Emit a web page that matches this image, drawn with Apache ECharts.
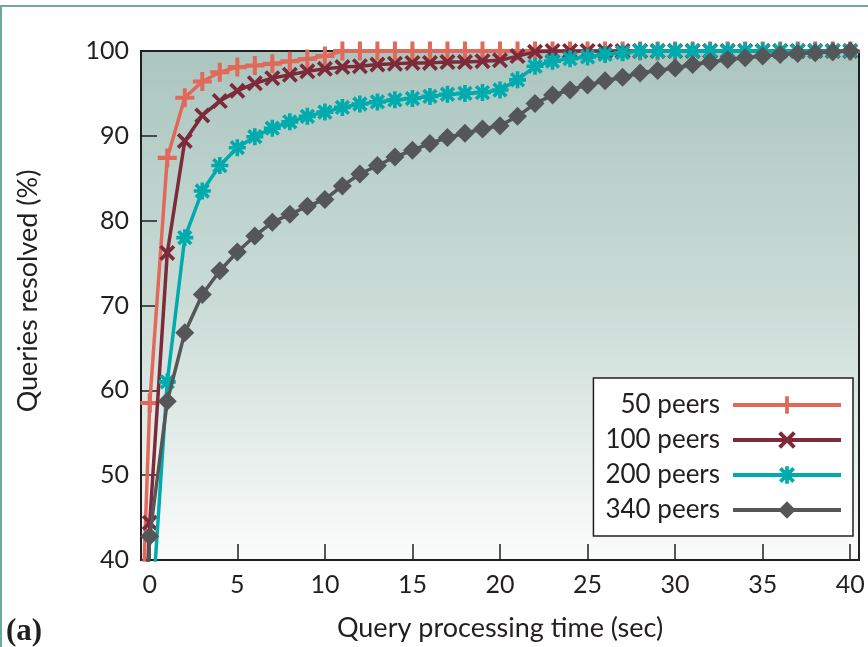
<!DOCTYPE html>
<html>
<head>
<meta charset="utf-8">
<script src="https://cdn.jsdelivr.net/npm/echarts@6/dist/echarts.min.js"></script>
<style>
    html, body { margin: 0; padding: 0; background: #ffffff; }
    #frame {
        position: absolute; left: 0; top: 5px; width: 900px; height: 700px;
        border-left: 2px solid #6eaa9b; border-top: 2px solid #6eaa9b;
    }
    #chart { position: absolute; left: 0; top: 0; width: 868px; height: 647px; }
</style>
</head>
<body>
<div id="frame"></div>
<div id="chart"></div>
<script>
// time in seconds, one sample per second
const times = [0, 1, 2, 3, 4, 5, 6, 7, 8, 9, 10, 11, 12, 13, 14, 15, 16, 17, 18, 19, 20,
    21, 22, 23, 24, 25, 26, 27, 28, 29, 30, 31, 32, 33, 34, 35, 36, 37, 38, 39, 40];

// where every curve comes up from (below the visible range)
const startTime = -1;
const startValue = 0;

const peers50 = [58.5, 87.4, 94.5, 96.4, 97.5, 98.1, 98.3, 98.5, 98.8, 99.05, 99.4,
    100, 100, 100, 100, 100, 100, 100, 100, 100, 100,
    100, 100, 100, 100, 100, 100, 100, 100, 100, 100,
    100, 100, 100, 100, 100, 100, 100, 100, 100, 100];
const peers100 = [44.4, 76.2, 89.4, 92.4, 94.1, 95.3, 96.2, 96.8, 97.2, 97.6, 97.9,
    98.1, 98.2, 98.4, 98.5, 98.6, 98.6, 98.7, 98.7, 98.8, 98.9,
    99.4, 99.9, 100, 100, 100, 100, 100, 100, 100, 100,
    100, 100, 100, 100, 100, 100, 100, 100, 100, 100];
const peers200 = [30, 61.0, 78.0, 83.5, 86.5, 88.6, 89.9, 90.9, 91.65, 92.3, 92.8,
    93.35, 93.75, 94.0, 94.25, 94.4, 94.65, 94.9, 95.0, 95.1, 95.4,
    96.6, 98.2, 98.8, 99.1, 99.3, 99.6, 99.8, 100, 100, 100,
    100, 100, 100, 100, 100, 100, 100, 100, 100, 100];
const peers340 = [42.8, 58.7, 66.8, 71.3, 74.1, 76.3, 78.2, 79.8, 80.75, 81.7, 82.5,
    84.1, 85.5, 86.5, 87.5, 88.3, 89.1, 89.8, 90.3, 90.8, 91.2,
    92.3, 93.8, 94.8, 95.4, 96.0, 96.5, 96.9, 97.4, 97.7, 98.0,
    98.4, 98.7, 99.0, 99.2, 99.4, 99.6, 99.7, 99.8, 99.9, 100];

const seriesNames = ['50 peers', '100 peers', '200 peers', '340 peers'];
const xTicks = [0, 5, 10, 15, 20, 25, 30, 35, 40];
const yTicks = [40, 50, 60, 70, 80, 90, 100];

const colors = ['#e1695a', '#7d2a3a', '#00abad', '#555658'];

// gnuplot-like point types drawn as filled outlines
const plusPath = 'path://M6.3,0 h3.4 v6.3 h6.3 v3.4 h-6.3 v6.3 h-3.4 v-6.3 h-6.3 v-3.4 h6.3 z';
const crossPath = 'path://M0,2.6 L2.6,0 L8,5.4 L13.4,0 L16,2.6 L10.6,8 L16,13.4 L13.4,16 L8,10.6 L2.6,16 L0,13.4 L5.4,8 Z';
const starPath = 'path://M6.3,0 h3.4 v6.3 h6.3 v3.4 h-6.3 v6.3 h-3.4 v-6.3 h-6.3 v-3.4 h6.3 z'
    + ' M0.8,3.2 L3.2,0.8 L8,5.6 L12.8,0.8 L15.2,3.2 L10.4,8 L15.2,12.8 L12.8,15.2 L8,10.4 L3.2,15.2 L0.8,12.8 L5.6,8 Z';

const symbols = [plusPath, crossPath, starPath, 'diamond'];
const symbolSizes = [19, 16, 17, 19];
const values = [peers50, peers100, peers200, peers340];

const font = 'Lato';

function buildData(ys) {
    const pts = [{ value: [startTime, startValue], symbol: 'none' }];
    times.forEach((t, i) => pts.push([t, ys[i]]));
    return pts;
}

const chart = echarts.init(document.getElementById('chart'));

const option = {
    animation: false,
    grid: {
        left: 141,
        top: 51,
        right: 9,
        bottom: 86,
        show: true,
        borderColor: '#231f20',
        borderWidth: 2,
        backgroundColor: new echarts.graphic.LinearGradient(0, 0, 0, 1, [
            { offset: 0, color: '#abc6bf' },
            { offset: 0.5, color: '#cbdcd7' },
            { offset: 1, color: '#fbfcfc' },
        ]),
    },
    legend: {
        data: seriesNames,
        orient: 'vertical',
        align: 'right',
        right: 15,
        top: 378,
        padding: [14, 10, 13, 12],
        itemWidth: 108,
        itemHeight: 22,
        itemGap: 9,
        backgroundColor: '#ffffff',
        borderColor: '#231f20',
        borderWidth: 1.5,
        borderRadius: 0,
        lineStyle: { width: 4 },
        textStyle: { fontFamily: font, fontSize: 26, color: '#231f20', lineHeight: 22, padding: [0, 8, 0, 0] },
    },
    xAxis: {
        type: 'value',
        min: -0.5,
        max: 40.5,
        name: 'Query processing time (sec)',
        nameLocation: 'middle',
        nameGap: 55,
        nameTextStyle: { fontFamily: font, fontSize: 27, color: '#231f20' },
        axisLine: { show: true, onZero: false, lineStyle: { color: '#231f20', width: 2 } },
        axisTick: { show: true, inside: true, length: 16, customValues: xTicks, lineStyle: { color: '#231f20', width: 1.5 } },
        axisLabel: { customValues: xTicks, margin: 12, fontFamily: font, fontSize: 25, color: '#231f20' },
        splitLine: { show: false },
    },
    yAxis: {
        type: 'value',
        min: 40,
        max: 100,
        interval: 10,
        axisLine: { show: true, onZero: false, lineStyle: { color: '#231f20', width: 2 } },
        axisTick: { show: true, inside: true, length: 16, lineStyle: { color: '#231f20', width: 1.5 } },
        axisLabel: { margin: 12, fontFamily: font, fontSize: 25, color: '#231f20' },
        splitLine: { show: false },
    },
    graphic: [
        {
            type: 'text',
            x: 28,
            y: 291,
            rotation: Math.PI / 2,
            style: {
                text: 'Queries resolved (%)',
                fontFamily: font,
                fontSize: 27,
                fill: '#231f20',
                align: 'center',
                verticalAlign: 'middle',
            },
        },
        {
            type: 'text',
            x: 6,
            y: 632,
            style: {
                text: '(a)',
                fontFamily: 'Liberation Serif',
                fontWeight: 'bold',
                fontSize: 31,
                fill: '#231f20',
                align: 'left',
                verticalAlign: 'middle',
            },
        },
    ],
    series: seriesNames.map((name, i) => ({
        name: name,
        type: 'line',
        data: buildData(values[i]),
        symbol: symbols[i],
        symbolSize: symbolSizes[i],
        symbolKeepAspect: true,
        showAllSymbol: true,
        clip: true,
        color: colors[i],
        lineStyle: { color: colors[i], width: 3.5 },
        itemStyle: { color: colors[i] },
        z: 2 + i,
    })),
};

chart.setOption(option);
</script>
</body>
</html>
